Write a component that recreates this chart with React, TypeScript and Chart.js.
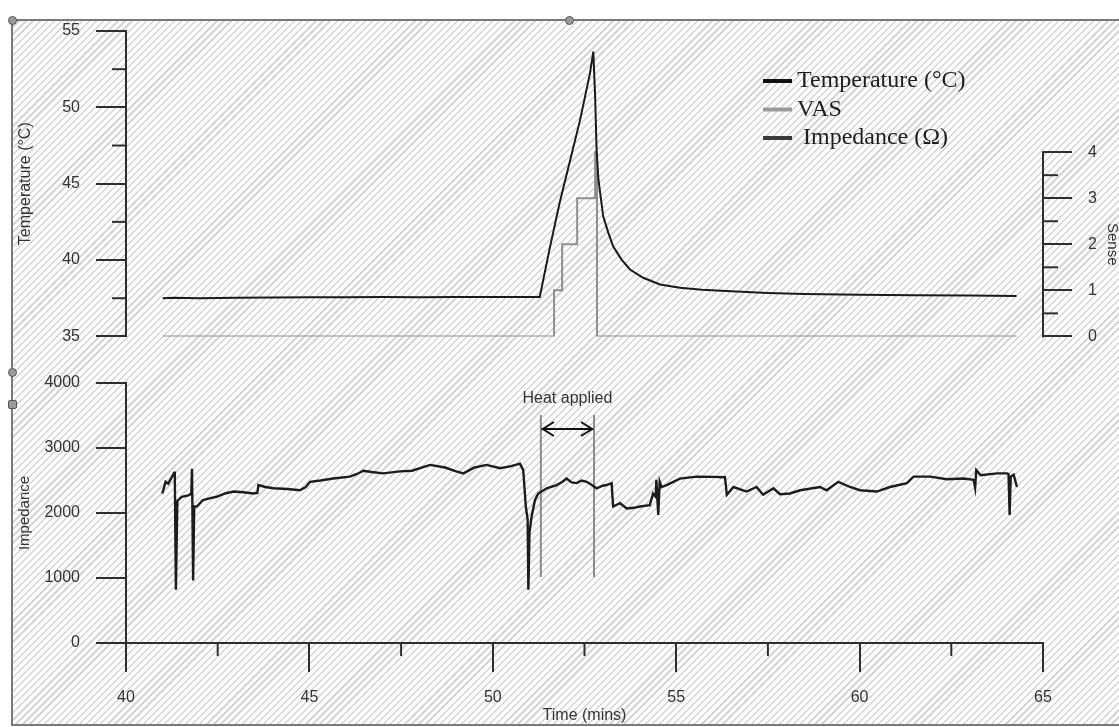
import React, { useEffect, useRef } from 'react';
import { Chart, registerables } from 'chart.js';

Chart.register(...registerables);

// ---------------- data ----------------
const TIME_MIN = 40;
const TIME_MAX = 65;
const TIME_TICKS_MAJOR = [40, 45, 50, 55, 60, 65];
const TIME_TICKS_MINOR = [42.5, 47.5, 52.5, 57.5, 62.5];

const TEMP_MIN = 35;
const TEMP_MAX = 55;
const TEMP_TICKS_MAJOR = [35, 40, 45, 50, 55];
const TEMP_TICKS_MINOR = [37.5, 42.5, 47.5, 52.5];

const SENSE_AXIS_MAX = 6.63; // scale top (axis line only spans 0–4)
const SENSE_TICKS_MAJOR = [0, 1, 2, 3, 4];
const SENSE_TICKS_MINOR = [0.5, 1.5, 2.5, 3.5];

const IMP_MIN = 0;
const IMP_MAX = 4000;
const IMP_TICKS = [0, 1000, 2000, 3000, 4000];

const TEMP_T = [41.0, 41.3, 42.0, 43.0, 44.0, 45.0, 46.0, 47.0, 48.0, 49.0, 50.0, 51.0, 51.28, 51.55, 51.83, 52.1, 52.38, 52.65, 52.74, 52.79, 52.83, 52.88, 53.01, 53.15, 53.28, 53.51, 53.74, 54.1, 54.56, 55.1, 55.7, 56.5, 57.5, 58.5, 60.0, 61.5, 63.0, 64.28];
const TEMP_V = [37.5, 37.53, 37.5, 37.53, 37.55, 37.56, 37.57, 37.58, 37.57, 37.58, 37.58, 37.58, 37.58, 40.75, 43.84, 46.46, 49.18, 52.24, 53.65, 50.7, 47.2, 45.26, 42.86, 41.78, 40.9, 40.03, 39.38, 38.84, 38.4, 38.18, 38.05, 37.95, 37.85, 37.78, 37.72, 37.7, 37.68, 37.65];

const VAS_T = [41.0, 51.67, 51.89, 52.3, 52.79, 52.84, 64.28];
const VAS_V = [0, 1, 2, 3, 4, 0, 0];

const IMP_T = [40.99, 41.08, 41.15, 41.22, 41.31, 41.33, 41.36, 41.4, 41.43, 41.52, 41.7, 41.78, 41.8, 41.83, 41.86, 41.93, 42.1, 42.3, 42.47, 42.7, 42.93, 43.2, 43.47, 43.58, 43.61, 43.8, 44.02, 44.4, 44.74, 44.9, 45.02, 45.3, 45.65, 46.1, 46.3, 46.47, 46.7, 47.01, 47.47, 47.8, 48.29, 48.7, 49.0, 49.2, 49.5, 49.83, 50.2, 50.5, 50.74, 50.83, 50.9, 50.95, 50.97, 51.0, 51.06, 51.15, 51.24, 51.47, 51.74, 51.9, 52.01, 52.15, 52.29, 52.42, 52.56, 52.7, 52.83, 53.0, 53.1, 53.24, 53.28, 53.47, 53.65, 53.85, 54.01, 54.28, 54.37, 54.44, 54.46, 54.51, 54.55, 54.6, 54.74, 55.1, 55.56, 56.0, 56.33, 56.38, 56.56, 56.92, 57.19, 57.37, 57.65, 57.83, 58.1, 58.38, 58.92, 59.1, 59.42, 59.74, 60.01, 60.47, 60.83, 61.29, 61.47, 61.93, 62.38, 62.84, 63.11, 63.15, 63.18, 63.3, 63.75, 64.02, 64.06, 64.09, 64.12, 64.2, 64.29];
const IMP_V = [2300, 2480, 2450, 2520, 2620, 2640, 820, 2180, 2200, 2250, 2270, 2300, 2680, 960, 2100, 2100, 2200, 2230, 2250, 2300, 2330, 2320, 2300, 2310, 2430, 2400, 2380, 2370, 2350, 2400, 2480, 2500, 2530, 2560, 2600, 2650, 2630, 2610, 2640, 2650, 2740, 2700, 2640, 2610, 2700, 2740, 2690, 2720, 2760, 2660, 2100, 1900, 820, 1700, 1950, 2200, 2300, 2380, 2430, 2480, 2530, 2470, 2460, 2500, 2480, 2430, 2380, 2420, 2430, 2460, 2100, 2150, 2070, 2080, 2100, 2120, 2300, 2250, 2510, 1970, 2480, 2400, 2430, 2530, 2560, 2555, 2550, 2280, 2400, 2330, 2400, 2280, 2380, 2290, 2300, 2350, 2400, 2350, 2480, 2400, 2350, 2330, 2400, 2460, 2560, 2560, 2520, 2530, 2510, 2390, 2660, 2580, 2610, 2610, 2600, 1970, 2560, 2590, 2400];

const HEAT_START = 51.31;
const HEAT_END = 52.76;
const HEAT_LINE_LOW = 1015;
const HEAT_LINE_HIGH = 3508;
const HEAT_ARROW_Y = 3292;
const HEAT_LABEL_Y = 3754;
const HEAT_LABEL = 'Heat applied';

const LEGEND_LABELS = ['Temperature (°C)', 'VAS', 'Impedance (Ω)'];
const LEGEND_COLORS = ['#111111', '#9a9a9a', '#3a3a3a'];

// ---------------- styles ----------------
const AXIS_COLOR = '#2e2e2e';
const TEXT_COLOR = '#333333';
const SANS = '"Liberation Sans", Arial, sans-serif';
const SERIF = '"Liberation Serif", "Times New Roman", serif';

const pts = (xs: number[], ys: number[]) => xs.map((x, i) => ({ x, y: ys[i] }));

const axisExtras = {
  id: 'axisExtras',
  afterDraw(chart: any, _args: any, opts: any) {
    const ctx = chart.ctx;
    ctx.save();
    ctx.strokeStyle = AXIS_COLOR;
    ctx.lineWidth = 2;
    for (const m of opts.minor || []) {
      const s = chart.scales[m.scale];
      for (const v of m.values) {
        const p = s.getPixelForValue(v);
        ctx.beginPath();
        if (m.side === 'left') {
          ctx.moveTo(s.right - m.length, p);
          ctx.lineTo(s.right, p);
        } else if (m.side === 'right') {
          ctx.moveTo(s.left, p);
          ctx.lineTo(s.left + m.length, p);
        } else {
          ctx.moveTo(p, s.top);
          ctx.lineTo(p, s.top + m.length);
        }
        ctx.stroke();
      }
    }
    if (opts.partialBorder) {
      const b = opts.partialBorder;
      const s = chart.scales[b.scale];
      ctx.beginPath();
      ctx.moveTo(s.left, s.getPixelForValue(b.from) + 1);
      ctx.lineTo(s.left, s.getPixelForValue(b.to) - 1);
      ctx.stroke();
    }
    if (opts.sideTitle) {
      const t = opts.sideTitle;
      const s = chart.scales[t.scale];
      ctx.fillStyle = TEXT_COLOR;
      ctx.font = `15px ${SANS}`;
      ctx.textAlign = 'center';
      ctx.textBaseline = 'middle';
      ctx.translate(t.x, s.getPixelForValue(t.at));
      ctx.rotate(Math.PI / 2);
      ctx.fillText(t.text, 0, 0);
    }
    ctx.restore();
  },
};

const seriesLegend = {
  id: 'seriesLegend',
  afterDraw(chart: any, _args: any, opts: any) {
    const ctx = chart.ctx;
    ctx.save();
    ctx.font = `24px ${SERIF}`;
    ctx.textBaseline = 'middle';
    ctx.textAlign = 'left';
    LEGEND_LABELS.forEach((label, i) => {
      const y = opts.y + i * opts.step;
      ctx.strokeStyle = LEGEND_COLORS[i];
      ctx.lineWidth = 4;
      ctx.beginPath();
      ctx.moveTo(opts.x, y);
      ctx.lineTo(opts.x + 29, y);
      ctx.stroke();
      ctx.fillStyle = '#1e1e1e';
      ctx.fillText(label, opts.x + 34 + (i === 2 ? 6 : 0), y);
    });
    ctx.restore();
  },
};

const heatNote = {
  id: 'heatNote',
  afterDatasetsDraw(chart: any) {
    const ctx = chart.ctx;
    const xs = chart.scales.x;
    const ys = chart.scales.y;
    const x1 = xs.getPixelForValue(HEAT_START);
    const x2 = xs.getPixelForValue(HEAT_END);
    const ya = ys.getPixelForValue(HEAT_ARROW_Y);
    ctx.save();
    ctx.strokeStyle = '#111111';
    ctx.lineWidth = 2;
    ctx.beginPath();
    ctx.moveTo(x1 + 13, ya - 7);
    ctx.lineTo(x1 + 2, ya);
    ctx.lineTo(x1 + 13, ya + 7);
    ctx.moveTo(x2 - 13, ya - 7);
    ctx.lineTo(x2 - 2, ya);
    ctx.lineTo(x2 - 13, ya + 7);
    ctx.stroke();
    ctx.fillStyle = TEXT_COLOR;
    ctx.font = `16px ${SANS}`;
    ctx.textAlign = 'center';
    ctx.textBaseline = 'middle';
    ctx.fillText(HEAT_LABEL, (x1 + x2) / 2, ys.getPixelForValue(HEAT_LABEL_Y));
    ctx.restore();
  },
};

const gridOpts = (len: number) => ({
  display: true,
  drawOnChartArea: false,
  drawTicks: true,
  tickLength: len,
  tickColor: AXIS_COLOR,
  tickWidth: 2,
  lineWidth: 2,
  color: AXIS_COLOR,
});

const tickFont = { family: SANS, size: 16 };

export default function App() {
  const topRef = useRef<HTMLCanvasElement | null>(null);
  const botRef = useRef<HTMLCanvasElement | null>(null);

  useEffect(() => {
    if (!topRef.current || !botRef.current) return;
    const top = new Chart(topRef.current, {
      type: 'line',
      data: {
        datasets: [
          {
            label: LEGEND_LABELS[0],
            data: pts(TEMP_T, TEMP_V),
            yAxisID: 'y',
            borderColor: '#1a1a1a',
            borderWidth: 2,
            pointRadius: 0,
            tension: 0,
          },
          {
            label: LEGEND_LABELS[1],
            data: pts(VAS_T, VAS_V),
            yAxisID: 'y2',
            borderColor: '#8e8e8e',
            borderWidth: 2,
            pointRadius: 0,
            stepped: true,
          },
        ],
      },
      options: {
        responsive: false,
        animation: false,
        devicePixelRatio: 1,
        events: [],
        layout: { padding: { left: 0, right: 0, top: 31, bottom: 12 } },
        plugins: {
          legend: { display: false },
          tooltip: { enabled: false },
          axisExtras: {
            minor: [
              { scale: 'y', values: TEMP_TICKS_MINOR, length: 14, side: 'left' },
              { scale: 'y2', values: SENSE_TICKS_MINOR, length: 15, side: 'right' },
            ],
            partialBorder: { scale: 'y2', from: 0, to: 4 },
            sideTitle: { scale: 'y2', at: 2, x: 1112, text: 'Sense' },
          },
          seriesLegend: { x: 763, y: 81, step: 28.5 },
        } as any,
        scales: {
          x: {
            type: 'linear',
            min: TIME_MIN,
            max: TIME_MAX,
            display: false,
          },
          y: {
            type: 'linear',
            position: 'left',
            min: TEMP_MIN,
            max: TEMP_MAX,
            afterBuildTicks: (s: any) => {
              s.ticks = TEMP_TICKS_MAJOR.map((v) => ({ value: v }));
            },
            afterFit: (s: any) => {
              s.width = 126;
            },
            border: { display: true, color: AXIS_COLOR, width: 2 },
            grid: gridOpts(30),
            ticks: { padding: 16, color: TEXT_COLOR, font: tickFont, callback: (v: any) => String(v) },
            title: {
              display: true,
              text: 'Temperature (°C)',
              color: TEXT_COLOR,
              font: { family: SANS, size: 16 },
              padding: { top: 16, bottom: 0 },
            },
          },
          y2: {
            type: 'linear',
            position: 'right',
            min: 0,
            max: SENSE_AXIS_MAX,
            afterBuildTicks: (s: any) => {
              s.ticks = SENSE_TICKS_MAJOR.map((v) => ({ value: v }));
            },
            afterFit: (s: any) => {
              s.width = 76;
            },
            border: { display: false },
            grid: gridOpts(29),
            ticks: { padding: 16, color: TEXT_COLOR, font: tickFont, callback: (v: any) => String(v) },
          },
        } as any,
      },
      plugins: [axisExtras, seriesLegend],
    } as any);

    const bot = new Chart(botRef.current, {
      type: 'line',
      data: {
        datasets: [
          {
            label: LEGEND_LABELS[2],
            data: pts(IMP_T, IMP_V),
            borderColor: '#1c1c1c',
            borderWidth: 2.4,
            pointRadius: 0,
            tension: 0,
          },
          {
            label: 'heat start',
            data: pts([HEAT_START, HEAT_START], [HEAT_LINE_LOW, HEAT_LINE_HIGH]),
            borderColor: '#8a8a8a',
            borderWidth: 2,
            pointRadius: 0,
          },
          {
            label: 'heat end',
            data: pts([HEAT_END, HEAT_END], [HEAT_LINE_LOW, HEAT_LINE_HIGH]),
            borderColor: '#8a8a8a',
            borderWidth: 2,
            pointRadius: 0,
          },
          {
            label: 'heat span',
            data: pts([HEAT_START, HEAT_END], [HEAT_ARROW_Y, HEAT_ARROW_Y]),
            borderColor: '#111111',
            borderWidth: 2,
            pointRadius: 0,
          },
        ],
      },
      options: {
        responsive: false,
        animation: false,
        devicePixelRatio: 1,
        events: [],
        layout: { padding: { left: 0, right: 76, top: 35, bottom: 0 } },
        plugins: {
          legend: { display: false },
          tooltip: { enabled: false },
          axisExtras: {
            minor: [{ scale: 'x', values: TIME_TICKS_MINOR, length: 13, side: 'bottom' }],
          },
        } as any,
        scales: {
          x: {
            type: 'linear',
            min: TIME_MIN,
            max: TIME_MAX,
            afterBuildTicks: (s: any) => {
              s.ticks = TIME_TICKS_MAJOR.map((v) => ({ value: v }));
            },
            afterFit: (s: any) => {
              s.height = 84;
            },
            border: { display: true, color: AXIS_COLOR, width: 2 },
            grid: gridOpts(29),
            ticks: { padding: 16, color: TEXT_COLOR, font: tickFont, maxRotation: 0, callback: (v: any) => String(v) },
            title: {
              display: true,
              text: 'Time (mins)',
              color: TEXT_COLOR,
              font: { family: SANS, size: 16 },
              padding: { top: 0, bottom: 2 },
            },
          },
          y: {
            type: 'linear',
            position: 'left',
            min: IMP_MIN,
            max: IMP_MAX,
            afterBuildTicks: (s: any) => {
              s.ticks = IMP_TICKS.map((v) => ({ value: v }));
            },
            afterFit: (s: any) => {
              s.width = 126;
            },
            border: { display: true, color: AXIS_COLOR, width: 2 },
            grid: gridOpts(30),
            ticks: { padding: 16, color: TEXT_COLOR, font: tickFont, callback: (v: any) => String(v) },
            title: {
              display: true,
              text: 'Impedance',
              color: TEXT_COLOR,
              font: { family: SANS, size: 15 },
              padding: { top: 16, bottom: 0 },
            },
          },
        } as any,
      },
      plugins: [axisExtras, heatNote],
    } as any);

    return () => {
      top.destroy();
      bot.destroy();
    };
  }, []);

  const marker = (left: number, top: number, radius: string): React.CSSProperties => ({
    position: 'absolute',
    left: left - 4.5,
    top: top - 4.5,
    width: 7,
    height: 7,
    borderRadius: radius,
    background: '#9a9a9a',
    border: '1px solid #555',
  });

  return (
    <div
      style={{
        position: 'fixed',
        left: 0,
        top: 0,
        width: 1119,
        height: 727,
        background: '#ffffff',
        overflow: 'hidden',
      }}
    >
      <div
        style={{
          position: 'absolute',
          left: 11,
          top: 19,
          width: 1108,
          height: 707,
          boxSizing: 'border-box',
          borderTop: '2px solid #7a7a7a',
          borderLeft: '2px solid #7a7a7a',
          borderBottom: '2px solid #7a7a7a',
          background:
            'repeating-linear-gradient(135deg, #ffffff 0px, #ffffff 3.4px, #d6d6d6 3.4px, #d6d6d6 5px)',
        }}
      />
      <div style={marker(12, 20, '50%')} />
      <div style={marker(569, 20, '50%')} />
      <div style={marker(12, 372, '50%')} />
      <div style={marker(12, 404, '2px')} />
      <canvas
        ref={topRef}
        width={1119}
        height={362}
        style={{ position: 'absolute', left: 0, top: 0, width: 1119, height: 362, display: 'block' }}
      />
      <canvas
        ref={botRef}
        width={1119}
        height={379}
        style={{ position: 'absolute', left: 0, top: 348, width: 1119, height: 379, display: 'block' }}
      />
    </div>
  );
}
